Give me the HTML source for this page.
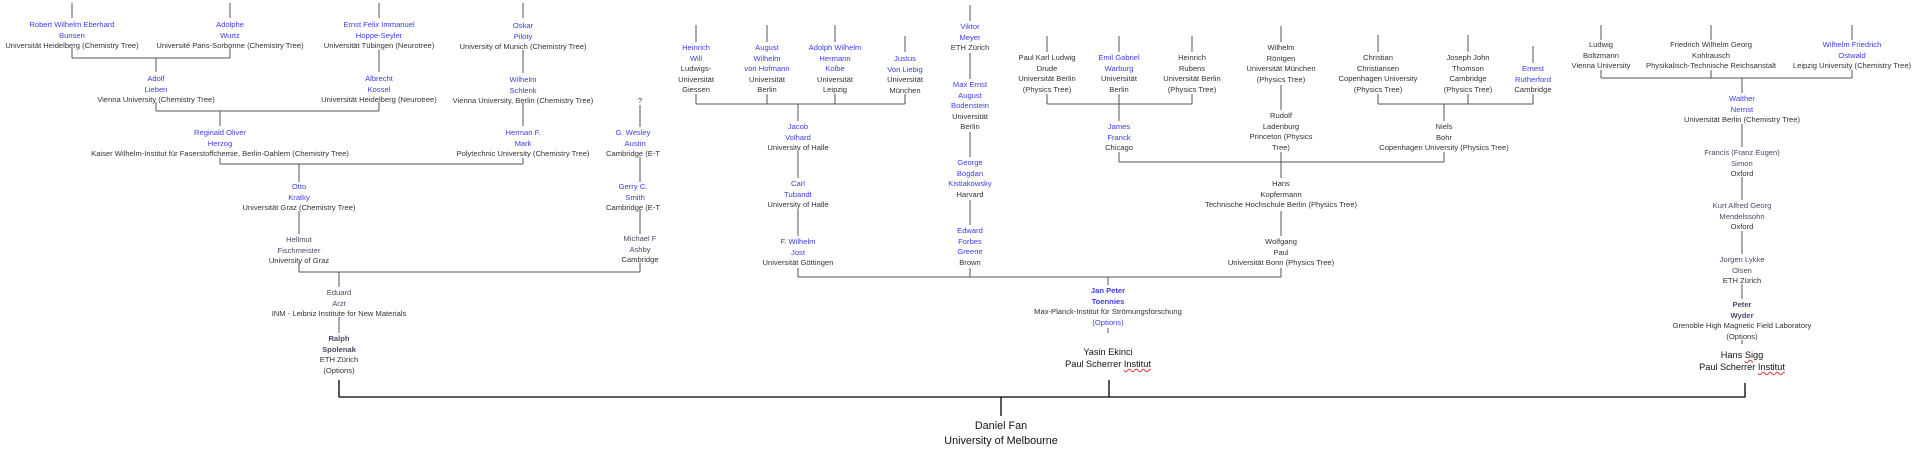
<!DOCTYPE html>
<html><head><meta charset="utf-8"><style>
body{margin:0;width:1918px;height:452px;background:#fff;position:relative;overflow:hidden}
.n{position:absolute;transform:translateX(-50%);text-align:center;white-space:nowrap;font-family:"Liberation Sans",sans-serif;font-size:7.6px;line-height:10.5px;color:#333}
.b{color:#3c3cea}.g{color:#4a4a6a}.bd{font-weight:bold}
.c{font-family:"Liberation Sans",sans-serif;font-size:9.2px;line-height:12px;color:#111}
.w{text-decoration:underline wavy #d33;text-decoration-thickness:0.6px}
svg{position:absolute;left:0;top:0}
</style></head><body>
<svg width="1918" height="452">
<g stroke="#555" stroke-width="1" fill="none" shape-rendering="crispEdges">
<path d="M72 3V18M230 3V18M379 3V18M523 3V18"/>
<path d="M72 48V58M230 48V58M72 58H230M156 58V72"/>
<path d="M379 50V72M523 50V73"/>
<path d="M156 102V111M379 102V111M156 111H379M220 111V126M523 103V126"/>
<path d="M220 158V164M523 158V164M220 164H523M299 164V182"/>
<path d="M640 105V127M640 157V182M640 210V234M640 263V272"/>
<path d="M299 211V234M299 263V272M299 272H640M339 272V287M339 317V333"/>
<path d="M696 25V42M767 25V42M835 25V42M905 36V52M696 94V104M767 94V104M835 94V104M905 94V104M696 104H905M798 104V121"/>
<path d="M798 152V178M798 209V236M798 268V277M970 5V21M970 53V79M970 132V157M970 200V225M970 268V277"/>
<path d="M798 277H1281M1108 277V285M1108 328V333"/>
<path d="M1047 36V52M1119 36V52M1192 36V52M1047 94V104M1192 94V104M1119 94V121M1047 104H1192"/>
<path d="M1281 26V42M1281 85V110"/>
<path d="M1378 35V52M1468 35V52M1533 46V63M1378 94V104M1468 94V104M1533 94V104M1378 104H1533M1444 104V121"/>
<path d="M1119 152V162M1444 152V162M1119 162H1444M1281 152V178M1281 211V236M1281 268V277"/>
<path d="M1601 25V40M1711 25V40M1852 25V40M1601 70V78M1711 70V78M1852 70V78M1601 78H1852M1742 78V93"/>
<path d="M1742 124V147M1742 177V200M1742 231V254M1742 284V299M1742 340V344"/>
</g>
<g stroke="#000" stroke-width="1.3" fill="none">
<path d="M339 380V397H1745V383M1109 380V397M1001 397V416"/>
</g>
</svg>

<div class="n" style="left:72px;top:20px"><span class="b">Robert Wilhelm Eberhard<br>Bunsen</span><br>Universität Heidelberg (Chemistry Tree)</div>
<div class="n" style="left:230px;top:20px"><span class="b">Adolphe<br>Wurtz</span><br>Université Paris-Sorbonne (Chemistry Tree)</div>
<div class="n" style="left:379px;top:20px"><span class="b">Ernst Felix Immanuel<br>Hoppe-Seyler</span><br>Universität Tübingen (Neurotree)</div>
<div class="n" style="left:523px;top:21px"><span class="b">Oskar<br>Piloty</span><br>University of Munich (Chemistry Tree)</div>
<div class="n" style="left:156px;top:74px"><span class="b">Adolf<br>Lieben</span><br>Vienna University (Chemistry Tree)</div>
<div class="n" style="left:379px;top:74px"><span class="b">Albrecht<br>Kossel</span><br>Universität Heidelberg (Neurotree)</div>
<div class="n" style="left:523px;top:75px"><span class="b">Wilhelm<br>Schlenk</span><br>Vienna University, Berlin (Chemistry Tree)</div>
<div class="n" style="left:220px;top:128px"><span class="b">Reginald Oliver<br>Herzog</span><br>Kaiser Wilhelm-Institut für Faserstoffchemie, Berlin-Dahlem (Chemistry Tree)</div>
<div class="n" style="left:523px;top:128px"><span class="b">Herman F.<br>Mark</span><br>Polytechnic University (Chemistry Tree)</div>
<div class="n" style="left:640px;top:96px">?</div>
<div class="n" style="left:633px;top:128px"><span class="b">G. Wesley<br>&nbsp;&nbsp;Austin</span><br>Cambridge (E-T</div>
<div class="n" style="left:633px;top:182px"><span class="b">Gerry C.<br>&nbsp;&nbsp;Smith</span><br>Cambridge (E-T</div>
<div class="n" style="left:640px;top:234px"><span class="g">Michael F<br>Ashby</span><br>Cambridge</div>
<div class="n" style="left:299px;top:182px"><span class="b">Otto<br>Kratky</span><br>Universität Graz (Chemistry Tree)</div>
<div class="n" style="left:299px;top:235px"><span class="g">Hellmut<br>Fischmeister</span><br>University of Graz</div>
<div class="n" style="left:339px;top:288px"><span class="g">Eduard<br>Arzt</span><br>INM - Leibniz Institute for New Materials</div>
<div class="n" style="left:339px;top:334px"><span class="g bd">Ralph<br>Spolenak</span><br>ETH Zürich<br>(Options)</div>

<div class="n" style="left:696px;top:43px"><span class="b">Heinrich<br>Will</span><br>Ludwigs-<br>Universität<br>Giessen</div>
<div class="n" style="left:767px;top:43px"><span class="b">August<br>Wilhelm<br>von Hofmann</span><br>Universität<br>Berlin</div>
<div class="n" style="left:835px;top:43px"><span class="b">Adolph Wilhelm<br>Hermann<br>Kolbe</span><br>Universität<br>Leipzig</div>
<div class="n" style="left:905px;top:54px"><span class="b">Justus<br>Von Liebig</span><br>Universität<br>München</div>
<div class="n" style="left:798px;top:122px"><span class="b">Jacob<br>Volhard</span><br>University of Halle</div>
<div class="n" style="left:798px;top:179px"><span class="b">Carl<br>Tubandt</span><br>University of Halle</div>
<div class="n" style="left:798px;top:237px"><span class="b">F. Wilhelm<br>Jost</span><br>Universität Göttingen</div>
<div class="n" style="left:970px;top:22px"><span class="b">Viktor<br>Meyer</span><br>ETH Zürich</div>
<div class="n" style="left:970px;top:80px"><span class="b">Max Ernst<br>August<br>Bodenstein</span><br>Universität<br>Berlin</div>
<div class="n" style="left:970px;top:158px"><span class="b">George<br>Bogdan<br>Kistiakowsky</span><br>Harvard</div>
<div class="n" style="left:970px;top:226px"><span class="b">Edward<br>Forbes<br>Greene</span><br>Brown</div>
<div class="n" style="left:1047px;top:53px">Paul Karl Ludwig<br>Drude<br>Universität Berlin<br>(Physics Tree)</div>
<div class="n" style="left:1119px;top:53px"><span class="b">Emil Gabriel<br>Warburg</span><br>Universität<br>Berlin</div>
<div class="n" style="left:1192px;top:53px">Heinrich<br>Rubens<br>Universität Berlin<br>(Physics Tree)</div>
<div class="n" style="left:1281px;top:43px">Wilhelm<br>Röntgen<br>Universität München<br>(Physics Tree)</div>
<div class="n" style="left:1281px;top:111px">Rudolf<br>Ladenburg<br>Princeton (Physics<br>Tree)</div>
<div class="n" style="left:1119px;top:122px"><span class="b">James<br>Franck</span><br>Chicago</div>
<div class="n" style="left:1378px;top:53px">Christian<br>Christiansen<br>Copenhagen University<br>(Physics Tree)</div>
<div class="n" style="left:1468px;top:53px">Joseph John<br>Thomson<br>Cambridge<br>(Physics Tree)</div>
<div class="n" style="left:1533px;top:64px"><span class="b">Ernest<br>Rutherford</span><br>Cambridge</div>
<div class="n" style="left:1444px;top:122px">Niels<br>Bohr<br>Copenhagen University (Physics Tree)</div>
<div class="n" style="left:1281px;top:179px">Hans<br>Kopfermann<br>Technische Hochschule Berlin (Physics Tree)</div>
<div class="n" style="left:1281px;top:237px">Wolfgang<br>Paul<br>Universität Bonn (Physics Tree)</div>
<div class="n" style="left:1108px;top:286px"><span class="b bd">Jan Peter<br>Toennies</span><br>Max-Planck-Institut für Strömungsforschung<br><span class="b">(Options)</span></div>
<div class="n c" style="left:1108px;top:346px">Yasin Ekinci<br>Paul Scherrer <span class="w">Institut</span></div>

<div class="n" style="left:1601px;top:40px">Ludwig<br>Boltzmann<br>Vienna University</div>
<div class="n" style="left:1711px;top:40px">Friedrich Wilhelm Georg<br>Kohlrausch<br>Physikalisch-Technische Reichsanstalt</div>
<div class="n" style="left:1852px;top:40px"><span class="b">Wilhelm Friedrich<br>Ostwald</span><br>Leipzig University (Chemistry Tree)</div>
<div class="n" style="left:1742px;top:94px"><span class="b">Walther<br>Nernst</span><br>Universität Berlin (Chemistry Tree)</div>
<div class="n" style="left:1742px;top:148px"><span class="g">Francis (Franz Eugen)<br>Simon</span><br>Oxford</div>
<div class="n" style="left:1742px;top:201px"><span class="g">Kurt Alfred Georg<br>Mendelssohn</span><br>Oxford</div>
<div class="n" style="left:1742px;top:255px"><span class="g">Jorgen Lykke<br>Olsen</span><br>ETH Zürich</div>
<div class="n" style="left:1742px;top:300px"><span class="g bd">Peter<br>Wyder</span><br>Grenoble High Magnetic Field Laboratory<br>(Options)</div>
<div class="n c" style="left:1742px;top:349px">Hans <span class="w">Sigg</span><br>Paul Scherrer <span class="w">Institut</span></div>

<div class="n" style="left:1001px;top:419px;font-size:10.8px;line-height:15px;color:#111">Daniel Fan<br>University of Melbourne</div>
</body></html>
